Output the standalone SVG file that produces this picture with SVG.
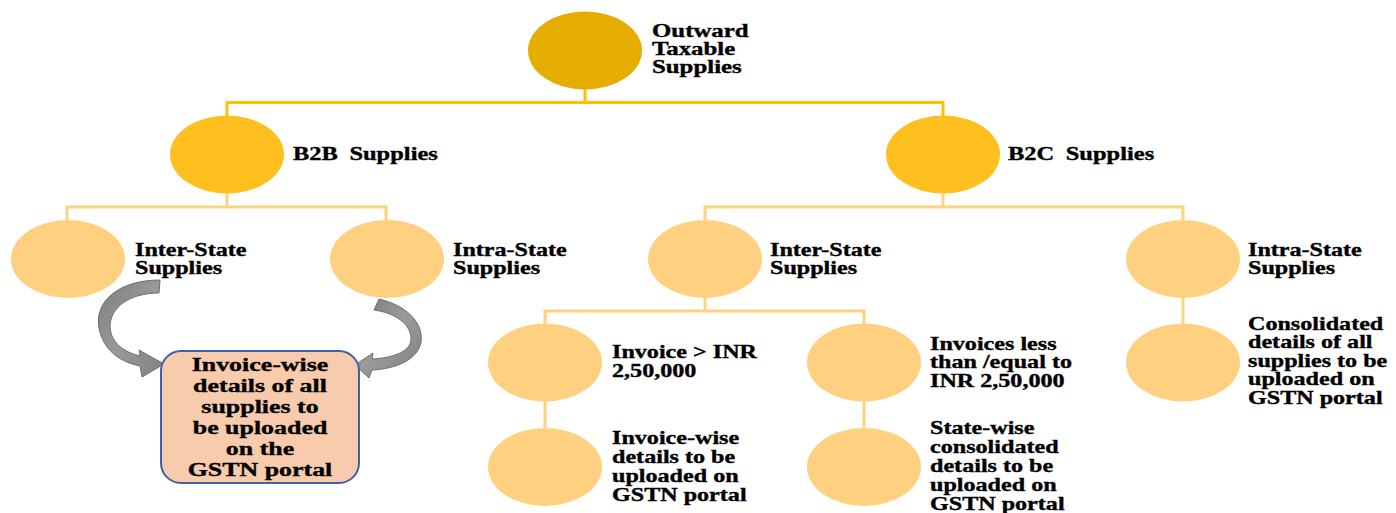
<svg xmlns="http://www.w3.org/2000/svg" width="1396" height="513" viewBox="0 0 1396 513">
  <style>
    .lbl { font-family: "Liberation Serif", "Times New Roman", serif; font-weight: bold; font-size: 18px; fill: #000; stroke: #000; stroke-width: 0.35; }
    .box-lbl { font-family: "Liberation Serif", "Times New Roman", serif; font-weight: bold; font-size: 18.5px; fill: #000; stroke: #000; stroke-width: 0.35; text-anchor: middle; }
    .root { fill: #E5AD00; }
    .lvl2 { fill: #FFC01F; }
    .lvl3 { fill: #FFD07F; }
    .link-top { fill: none; stroke: #FFC000; stroke-width: 3; }
    .link { fill: none; stroke: #FFD27F; stroke-width: 3; }
    .bend { fill: url(#grey); stroke: #6E6E6E; stroke-width: 1; }
  </style>
  <defs>
    <linearGradient id="grey" x1="0" y1="0" x2="1" y2="1">
      <stop offset="0" stop-color="#7C7C7C"/>
      <stop offset="0.5" stop-color="#9A9A9A"/>
      <stop offset="1" stop-color="#808080"/>
    </linearGradient>
  </defs>
  <rect width="1396" height="513" fill="#FFFFFF"/>

  <!-- connectors -->
  <g id="connectors">
    <path class="link-top" d="M585,89 V102.5 M227,116 V102.5 H943 V116"/>
    <path class="link" d="M227,193 V207 M67,220 V207 H386 V220"/>
    <path class="link" d="M943,193 V207 M705,220 V207 H1183 V220"/>
    <path class="link" d="M705,297 V311 M545,324 V311 H864 V324"/>
    <path class="link" d="M1183,297 V324"/>
    <path class="link" d="M545,401 V428 M864,401 V428"/>
    <!-- curved arrows into the summary box -->
    <path class="bend" d="M160,280 C118,280 94,302 99,328 C103,350 120,362 140,366 L142,377 L164,364 L139,350 L140,356 C124,352 111,343 110,327 C110,307 130,293 159,293 Z"/>
    <path class="bend" d="M379,299 C405,305 424,322 421,342 C418,360 395,369 372,370 L369,378 L355,365 L373,353 L372,359 C392,358 410,352 411,340 C412,325 396,313 374,310 Z"/>
  </g>

  <g id="outward">
    <ellipse class="root" cx="585" cy="50.5" rx="57" ry="39"/>
    <text class="lbl" transform="translate(652,37) scale(1.38,1)"><tspan x="0" y="0">Outward</tspan><tspan x="0" y="18">Taxable</tspan><tspan x="0" y="36">Supplies</tspan></text>
  </g>

  <g id="b2b">
    <ellipse class="lvl2" cx="227" cy="154.5" rx="57" ry="39"/>
    <text class="lbl" word-spacing="4" transform="translate(293,160) scale(1.36,1)">B2B Supplies</text>
  </g>

  <g id="b2c">
    <ellipse class="lvl2" cx="943" cy="154.5" rx="57" ry="39"/>
    <text class="lbl" word-spacing="4" transform="translate(1008,160) scale(1.36,1)">B2C Supplies</text>
  </g>

  <g id="b2b-inter">
    <ellipse class="lvl3" cx="68" cy="259" rx="57" ry="39"/>
    <text class="lbl" transform="translate(135,256) scale(1.34,1)"><tspan x="0" y="0">Inter-State</tspan><tspan x="0" y="18">Supplies</tspan></text>
  </g>

  <g id="b2b-intra">
    <ellipse class="lvl3" cx="387" cy="259" rx="57" ry="39"/>
    <text class="lbl" transform="translate(453,256) scale(1.34,1)"><tspan x="0" y="0">Intra-State</tspan><tspan x="0" y="18">Supplies</tspan></text>
  </g>

  <g id="b2c-inter">
    <ellipse class="lvl3" cx="705" cy="259" rx="57" ry="39"/>
    <text class="lbl" transform="translate(770,256) scale(1.34,1)"><tspan x="0" y="0">Inter-State</tspan><tspan x="0" y="18">Supplies</tspan></text>
  </g>

  <g id="b2c-intra">
    <ellipse class="lvl3" cx="1183" cy="259" rx="57" ry="39"/>
    <text class="lbl" transform="translate(1248,256) scale(1.34,1)"><tspan x="0" y="0">Intra-State</tspan><tspan x="0" y="18">Supplies</tspan></text>
  </g>

  <g id="above-limit">
    <ellipse class="lvl3" cx="545" cy="362.5" rx="57" ry="39"/>
    <text class="lbl" transform="translate(612,358) scale(1.34,1)"><tspan x="0" y="0">Invoice &gt; INR</tspan><tspan x="0" y="19">2,50,000</tspan></text>
  </g>

  <g id="within-limit">
    <ellipse class="lvl3" cx="864" cy="362.5" rx="57" ry="39"/>
    <text class="lbl" transform="translate(930,350) scale(1.34,1)"><tspan x="0" y="0">Invoices less</tspan><tspan x="0" y="18.5">than /equal to</tspan><tspan x="0" y="37">INR 2,50,000</tspan></text>
  </g>

  <g id="b2c-intra-detail">
    <ellipse class="lvl3" cx="1183" cy="362.5" rx="57" ry="39"/>
    <text class="lbl" transform="translate(1248,330) scale(1.34,1)"><tspan x="0" y="0">Consolidated</tspan><tspan x="0" y="18.4">details of all</tspan><tspan x="0" y="36.8">supplies to be</tspan><tspan x="0" y="55.2">uploaded on</tspan><tspan x="0" y="73.6">GSTN portal</tspan></text>
  </g>

  <g id="invoice-wise">
    <ellipse class="lvl3" cx="545" cy="467" rx="57" ry="39"/>
    <text class="lbl" transform="translate(612,444) scale(1.34,1)"><tspan x="0" y="0">Invoice-wise</tspan><tspan x="0" y="19">details to be</tspan><tspan x="0" y="38">uploaded on</tspan><tspan x="0" y="57">GSTN portal</tspan></text>
  </g>

  <g id="state-wise">
    <ellipse class="lvl3" cx="864" cy="467" rx="57" ry="39"/>
    <text class="lbl" transform="translate(930,434) scale(1.34,1)"><tspan x="0" y="0">State-wise</tspan><tspan x="0" y="19">consolidated</tspan><tspan x="0" y="38">details to be</tspan><tspan x="0" y="57">uploaded on</tspan><tspan x="0" y="76">GSTN portal</tspan></text>
  </g>

  <g id="b2b-summary">
    <rect x="161" y="351" width="198" height="132" rx="20" ry="20" fill="#F8CBAD" stroke="#3F5FA8" stroke-width="2"/>
    <text class="box-lbl" transform="translate(260,371) scale(1.4,1)"><tspan x="0" y="0">Invoice-wise</tspan><tspan x="0" y="21">details of all</tspan><tspan x="0" y="42">supplies to</tspan><tspan x="0" y="63">be uploaded</tspan><tspan x="0" y="84">on the</tspan><tspan x="0" y="105">GSTN portal</tspan></text>
  </g>
</svg>
